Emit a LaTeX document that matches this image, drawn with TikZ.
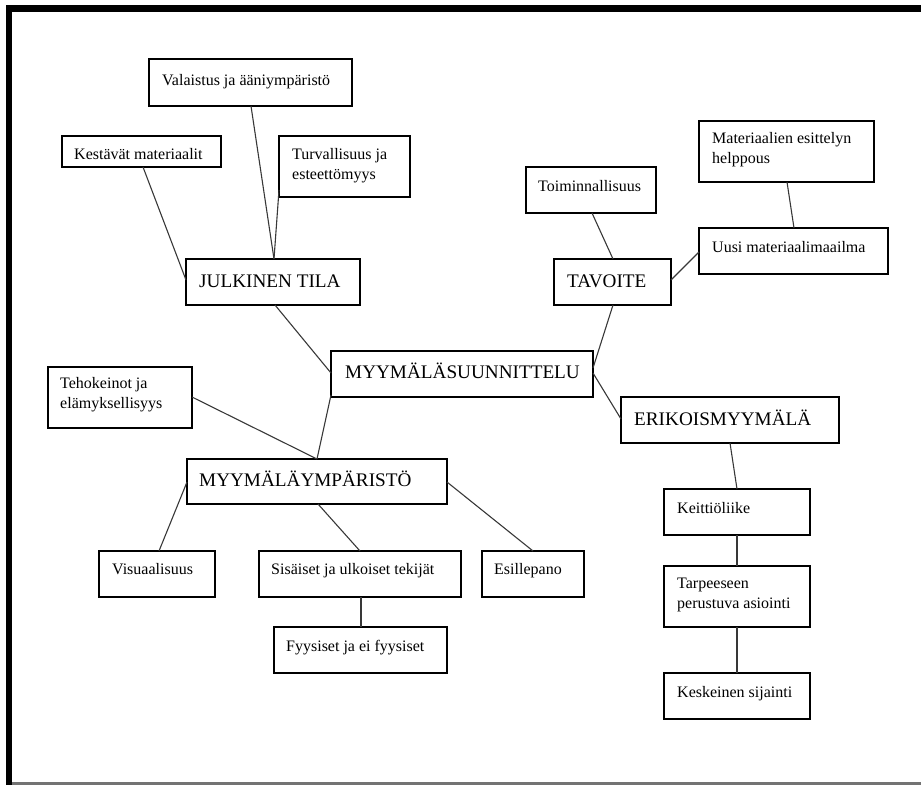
\documentclass[tikz,border=0pt]{standalone}
\usepackage{fontspec}
\setmainfont{Liberation Serif}
\usetikzlibrary{calc}
\begin{document}
\begin{tikzpicture}[x=1pt,y=-1pt,
  box/.style={draw=black,line width=1.2pt,anchor=north west,inner sep=0pt,outer sep=0pt},
  st/.style={anchor=base west,inner sep=0pt,font=\fontsize{16pt}{20pt}\selectfont},
  bt/.style={anchor=base west,inner sep=0pt,font=\fontsize{19.2pt}{24pt}\selectfont},
  conn/.style={draw=black!78,line width=1.1pt}]
\useasboundingbox (0,0) rectangle (921,785);
% frame
\fill[black] (6,5) rectangle (921,12);
\fill[black] (6,5) rectangle (12,785);
\fill[black!55] (12,782) rectangle (921,784.5);
% boxes
\node[box,minimum width=203pt,minimum height=47pt] (val) at (149,59) {};
\node[box,minimum width=159pt,minimum height=31pt] (kes) at (62,136) {};
\node[box,minimum width=131pt,minimum height=61pt] (tur) at (279,136) {};
\node[box,minimum width=174pt,minimum height=46pt] (jul) at (186,259) {};
\node[box,minimum width=130pt,minimum height=46pt] (toi) at (526,167) {};
\node[box,minimum width=175pt,minimum height=61pt] (mat) at (699,121) {};
\node[box,minimum width=189pt,minimum height=46pt] (uus) at (699,228) {};
\node[box,minimum width=117pt,minimum height=46pt] (tav) at (554,259) {};
\node[box,minimum width=262pt,minimum height=46pt] (mys) at (331,351) {};
\node[box,minimum width=144pt,minimum height=61pt] (teh) at (48,367) {};
\node[box,minimum width=218pt,minimum height=46pt] (eri) at (621,397) {};
\node[box,minimum width=260pt,minimum height=45pt] (myy) at (187,459) {};
\node[box,minimum width=116pt,minimum height=46pt] (vis) at (99,551) {};
\node[box,minimum width=202pt,minimum height=46pt] (sis) at (259,551) {};
\node[box,minimum width=102pt,minimum height=46pt] (esi) at (482,551) {};
\node[box,minimum width=173pt,minimum height=46pt] (fyy) at (274,627) {};
\node[box,minimum width=146pt,minimum height=46pt] (kei) at (664,489) {};
\node[box,minimum width=146pt,minimum height=61pt] (tar) at (664,566) {};
\node[box,minimum width=146pt,minimum height=46pt] (ksk) at (664,673) {};
% texts
\node[st] (valt) at ($(val.north west)+(13,26)$) {Valaistus ja ääniympäristö};
\node[st] (kest) at ($(kes.north west)+(12,23)$) {Kestävät materiaalit};
\node[st] (turt) at ($(tur.north west)+(13,23)$) {\begin{tabular}[t]{@{}l@{}}Turvallisuus ja\\esteettömyys\end{tabular}};
\node[bt] (jult) at ($(jul.north west)+(13,28)$) {JULKINEN TILA};
\node[st] (toit) at ($(toi.north west)+(12,24)$) {Toiminnallisuus};
\node[st] (matt) at ($(mat.north west)+(13,22)$) {\begin{tabular}[t]{@{}l@{}}Materiaalien esittelyn\\helppous\end{tabular}};
\node[st] (uust) at ($(uus.north west)+(13,24)$) {Uusi materiaalimaailma};
\node[bt] (tavt) at ($(tav.north west)+(13,28)$) {TAVOITE};
\node[bt] (myst) at ($(mys.north west)+(14,27)$) {MYYMÄLÄSUUNNITTELU};
\node[st] (teht) at ($(teh.north west)+(12,21)$) {\begin{tabular}[t]{@{}l@{}}Tehokeinot ja\\elämyksellisyys\end{tabular}};
\node[bt] (erit) at ($(eri.north west)+(13,28)$) {ERIKOISMYYMÄLÄ};
\node[bt] (myyt) at ($(myy.north west)+(12,27)$) {MYYMÄLÄYMPÄRISTÖ};
\node[st] (vist) at ($(vis.north west)+(13,23)$) {Visuaalisuus};
\node[st] (sist) at ($(sis.north west)+(12,23)$) {Sisäiset ja ulkoiset tekijät};
\node[st] (esit) at ($(esi.north west)+(12,23)$) {Esillepano};
\node[st] (fyyt) at ($(fyy.north west)+(12,24)$) {Fyysiset ja ei fyysiset};
\node[st] (keit) at ($(kei.north west)+(13,24)$) {Keittiöliike};
\node[st] (tart) at ($(tar.north west)+(13,22)$) {\begin{tabular}[t]{@{}l@{}}Tarpeeseen\\perustuva asiointi\end{tabular}};
\node[st] (kskt) at ($(ksk.north west)+(13,24)$) {Keskeinen sijainti};
% connectors
\draw[conn] ($(val.south west)+(102,0)$) -- ($(jul.north west)+(88,0)$);
\draw[conn] ($(tur.north west)+(0,54)$) -- ($(jul.north west)+(88,0)$);
\draw[conn] ($(kes.south west)+(81,0)$) -- ($(jul.north west)+(0,21)$);
\draw[conn] ($(jul.south west)+(89,0)$) -- ($(mys.north west)+(0,22)$);
\draw[conn] ($(mys.north west)+(0,44)$) -- ($(myy.north west)+(130,0)$);
\draw[conn] ($(teh.north east)+(0,30)$) -- ($(myy.north west)+(130,0)$);
\draw[conn] ($(myy.north west)+(0,23)$) -- ($(vis.north west)+(60,0)$);
\draw[conn] ($(myy.south west)+(131,0)$) -- ($(sis.north west)+(101,0)$);
\draw[conn] ($(sis.south west)+(102,0)$) -- ($(fyy.north west)+(87,0)$);
\draw[conn] ($(myy.north east)+(0,23)$) -- ($(esi.north west)+(51,0)$);
\draw[conn] ($(mys.north east)+(0,22)$) -- ($(eri.north west)+(0,22)$);
\draw[conn] ($(eri.south west)+(109,0)$) -- ($(kei.north west)+(73,0)$);
\draw[conn] ($(kei.south west)+(73,0)$) -- ($(tar.north west)+(73,0)$);
\draw[conn] ($(tar.south west)+(73,0)$) -- ($(ksk.north west)+(73,0)$);
\draw[conn] ($(toi.south west)+(66,0)$) -- ($(tav.north west)+(59,0)$);
\draw[conn] ($(mat.south west)+(88,0)$) -- ($(uus.north west)+(95,0)$);
\draw[conn] ($(tav.north east)+(0,21)$) -- ($(uus.north west)+(0,24)$);
\draw[conn] ($(tav.south west)+(59,0)$) -- ($(mys.north east)+(0,17)$);
\end{tikzpicture}
\end{document}
